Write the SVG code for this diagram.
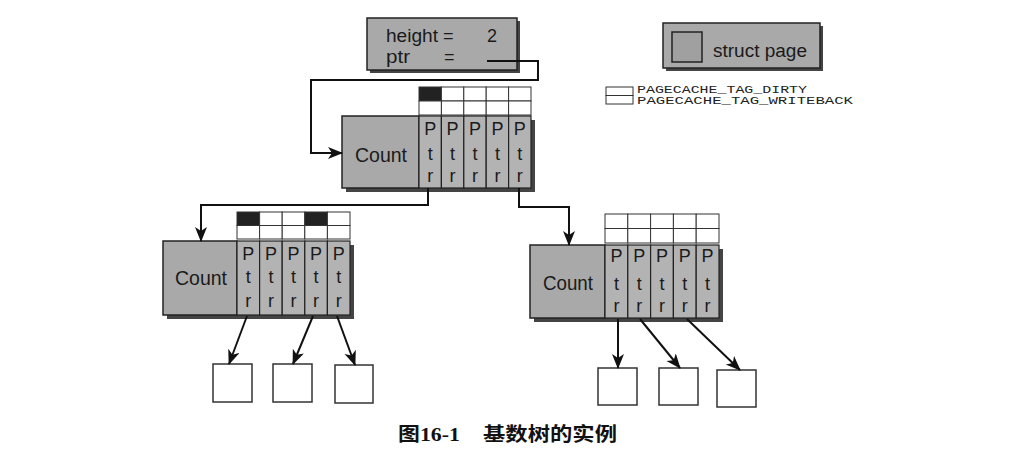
<svg xmlns="http://www.w3.org/2000/svg" width="1021" height="461" viewBox="0 0 1021 461">
<style>
.box{fill:#a9a9a9;stroke:#222;stroke-width:1.5}
.col{fill:#b3b3b3;stroke:#222;stroke-width:1.2}
.sh{fill:#444}
.cell{fill:#fff;stroke:#333;stroke-width:1}
.blk{fill:#222;stroke:#333;stroke-width:1}
.leaf{fill:#fff;stroke:#333;stroke-width:1.5}
.t{font-family:"Liberation Sans",Arial,sans-serif;fill:#1a1a1a}
.cnt{font-size:20px}
.p{font-size:18px;text-anchor:middle}
.mono{font-family:"Liberation Mono","Courier New",monospace;font-size:10px;fill:#222}
.con{fill:none;stroke:#111;stroke-width:2}
</style>
<defs>
<marker id="ah" markerUnits="userSpaceOnUse" markerWidth="16" markerHeight="14" refX="14" refY="6" orient="auto">
<path d="M0,0 L15,6 L0,12 L4,6 Z" fill="#111"/>
</marker>
</defs>
<rect width="1021" height="461" fill="#fff"/>

<g id="root">
<rect class="sh" x="370" y="21" width="150" height="52"/>
<rect class="box" x="367" y="18" width="150" height="52"/>
<text class="t" x="386" y="42" font-size="18" textLength="52" lengthAdjust="spacingAndGlyphs">height</text>
<text class="t" x="443" y="42" font-size="18">=</text>
<text class="t" x="487" y="42" font-size="18">2</text>
<text class="t" x="386" y="63" font-size="18" textLength="24" lengthAdjust="spacingAndGlyphs">ptr</text>
<text class="t" x="444" y="63" font-size="18">=</text>
</g>

<g id="legend">
<rect class="sh" x="666" y="26" width="157" height="45"/>
<rect class="box" x="663" y="23" width="157" height="45"/>
<rect x="672" y="32" width="30" height="30" fill="#a0a0a0" stroke="#222" stroke-width="1.5"/>
<text class="t" x="713" y="57" font-size="18" textLength="94" lengthAdjust="spacingAndGlyphs">struct page</text>
<rect class="cell" x="606" y="87" width="27" height="8.5"/>
<rect class="cell" x="606" y="95.5" width="27" height="8.5"/>
<text class="mono" x="637" y="93" textLength="170" lengthAdjust="spacingAndGlyphs">PAGECACHE_TAG_DIRTY</text>
<text class="mono" x="637" y="104" textLength="216" lengthAdjust="spacingAndGlyphs">PAGECACHE_TAG_WRITEBACK</text>
</g>

<g id="node-mid">
<g>
<rect class="blk" x="419" y="87" width="22.4" height="14"/>
<rect class="cell" x="441.4" y="87" width="22.4" height="14"/>
<rect class="cell" x="463.8" y="87" width="22.4" height="14"/>
<rect class="cell" x="486.2" y="87" width="22.4" height="14"/>
<rect class="cell" x="508.6" y="87" width="22.4" height="14"/>
<rect class="cell" x="419" y="101" width="22.4" height="14"/>
<rect class="cell" x="441.4" y="101" width="22.4" height="14"/>
<rect class="cell" x="463.8" y="101" width="22.4" height="14"/>
<rect class="cell" x="486.2" y="101" width="22.4" height="14"/>
<rect class="cell" x="508.6" y="101" width="22.4" height="14"/>
</g>
<rect class="sh" x="346" y="120" width="189" height="72"/>
<rect class="box" x="342" y="116" width="77" height="72"/>
<rect class="col" x="419" y="116" width="22.4" height="72"/>
<rect class="col" x="441.4" y="116" width="22.4" height="72"/>
<rect class="col" x="463.8" y="116" width="22.4" height="72"/>
<rect class="col" x="486.2" y="116" width="22.4" height="72"/>
<rect class="col" x="508.6" y="116" width="22.4" height="72"/>
<text class="t cnt" x="355" y="162" textLength="52" lengthAdjust="spacingAndGlyphs">Count</text>
<g class="t p">
<text x="430.2" y="135">P</text><text x="430.2" y="160">t</text><text x="430.2" y="182">r</text>
<text x="452.6" y="135">P</text><text x="452.6" y="160">t</text><text x="452.6" y="182">r</text>
<text x="475" y="135">P</text><text x="475" y="160">t</text><text x="475" y="182">r</text>
<text x="497.4" y="135">P</text><text x="497.4" y="160">t</text><text x="497.4" y="182">r</text>
<text x="519.8" y="135">P</text><text x="519.8" y="160">t</text><text x="519.8" y="182">r</text>
</g>
</g>

<g id="node-left">
<g>
<rect class="blk" x="237" y="212" width="22.6" height="13.5"/>
<rect class="cell" x="259.6" y="212" width="22.6" height="13.5"/>
<rect class="cell" x="282.2" y="212" width="22.6" height="13.5"/>
<rect class="blk" x="304.8" y="212" width="22.6" height="13.5"/>
<rect class="cell" x="327.4" y="212" width="22.6" height="13.5"/>
<rect class="cell" x="237" y="225.5" width="22.6" height="13.5"/>
<rect class="cell" x="259.6" y="225.5" width="22.6" height="13.5"/>
<rect class="cell" x="282.2" y="225.5" width="22.6" height="13.5"/>
<rect class="cell" x="304.8" y="225.5" width="22.6" height="13.5"/>
<rect class="cell" x="327.4" y="225.5" width="22.6" height="13.5"/>
</g>
<rect class="sh" x="167" y="245" width="187" height="74"/>
<rect class="box" x="163" y="241" width="74" height="74"/>
<rect class="col" x="237" y="241" width="22.6" height="74"/>
<rect class="col" x="259.6" y="241" width="22.6" height="74"/>
<rect class="col" x="282.2" y="241" width="22.6" height="74"/>
<rect class="col" x="304.8" y="241" width="22.6" height="74"/>
<rect class="col" x="327.4" y="241" width="22.6" height="74"/>
<text class="t cnt" x="175" y="285" textLength="52" lengthAdjust="spacingAndGlyphs">Count</text>
<g class="t p">
<text x="248.3" y="260">P</text><text x="248.3" y="283">t</text><text x="248.3" y="307">r</text>
<text x="270.9" y="260">P</text><text x="270.9" y="283">t</text><text x="270.9" y="307">r</text>
<text x="293.5" y="260">P</text><text x="293.5" y="283">t</text><text x="293.5" y="307">r</text>
<text x="316.1" y="260">P</text><text x="316.1" y="283">t</text><text x="316.1" y="307">r</text>
<text x="338.7" y="260">P</text><text x="338.7" y="283">t</text><text x="338.7" y="307">r</text>
</g>
</g>

<g id="node-right">
<g>
<rect class="cell" x="605" y="214" width="22.8" height="14.5"/>
<rect class="cell" x="627.8" y="214" width="22.8" height="14.5"/>
<rect class="cell" x="650.6" y="214" width="22.8" height="14.5"/>
<rect class="cell" x="673.4" y="214" width="22.8" height="14.5"/>
<rect class="cell" x="696.2" y="214" width="22.8" height="14.5"/>
<rect class="cell" x="605" y="228.5" width="22.8" height="14.5"/>
<rect class="cell" x="627.8" y="228.5" width="22.8" height="14.5"/>
<rect class="cell" x="650.6" y="228.5" width="22.8" height="14.5"/>
<rect class="cell" x="673.4" y="228.5" width="22.8" height="14.5"/>
<rect class="cell" x="696.2" y="228.5" width="22.8" height="14.5"/>
</g>
<rect class="sh" x="534" y="249" width="189" height="73"/>
<rect class="box" x="530" y="245" width="75" height="73"/>
<rect class="col" x="605" y="245" width="22.8" height="73"/>
<rect class="col" x="627.8" y="245" width="22.8" height="73"/>
<rect class="col" x="650.6" y="245" width="22.8" height="73"/>
<rect class="col" x="673.4" y="245" width="22.8" height="73"/>
<rect class="col" x="696.2" y="245" width="22.8" height="73"/>
<text class="t cnt" x="543" y="290" textLength="50" lengthAdjust="spacingAndGlyphs">Count</text>
<g class="t p">
<text x="616.4" y="262">P</text><text x="616.4" y="290">t</text><text x="616.4" y="312">r</text>
<text x="639.2" y="262">P</text><text x="639.2" y="290">t</text><text x="639.2" y="312">r</text>
<text x="662" y="262">P</text><text x="662" y="290">t</text><text x="662" y="312">r</text>
<text x="684.8" y="262">P</text><text x="684.8" y="290">t</text><text x="684.8" y="312">r</text>
<text x="707.6" y="262">P</text><text x="707.6" y="290">t</text><text x="707.6" y="312">r</text>
</g>
</g>

<g id="leaf-1"><rect class="leaf" x="213" y="364" width="39" height="38"/></g>
<g id="leaf-2"><rect class="leaf" x="273" y="364" width="39" height="38"/></g>
<g id="leaf-3"><rect class="leaf" x="335" y="365" width="38" height="38"/></g>
<g id="leaf-4"><rect class="leaf" x="598" y="368" width="39" height="37"/></g>
<g id="leaf-5"><rect class="leaf" x="659" y="368" width="39" height="37"/></g>
<g id="leaf-6"><rect class="leaf" x="717" y="370" width="39" height="37"/></g>

<g id="connectors">
<path class="con" d="M487,61 H538 V80 H311 V153 H342" marker-end="url(#ah)"/>
<path class="con" d="M428,188 V205 H201 V241" marker-end="url(#ah)"/>
<path class="con" d="M519,188 V207 H569 V245" marker-end="url(#ah)"/>
<path class="con" d="M247,316 L229,364" marker-end="url(#ah)"/>
<path class="con" d="M313,316 L293,364" marker-end="url(#ah)"/>
<path class="con" d="M337,316 L355,365" marker-end="url(#ah)"/>
<path class="con" d="M618,319 V368" marker-end="url(#ah)"/>
<path class="con" d="M640,319 L680,368" marker-end="url(#ah)"/>
<path class="con" d="M687,319 L740,370" marker-end="url(#ah)"/>
</g>

<g id="caption" font-weight="bold" fill="#111">
<text x="398" y="441" font-family="'Liberation Serif','Noto Sans CJK SC',serif" font-size="19" textLength="62" lengthAdjust="spacingAndGlyphs">图16-1</text>
<text x="483" y="441" font-family="'Noto Sans CJK SC',sans-serif" font-size="19" textLength="134" lengthAdjust="spacingAndGlyphs">基数树的实例</text>
</g>
</svg>
